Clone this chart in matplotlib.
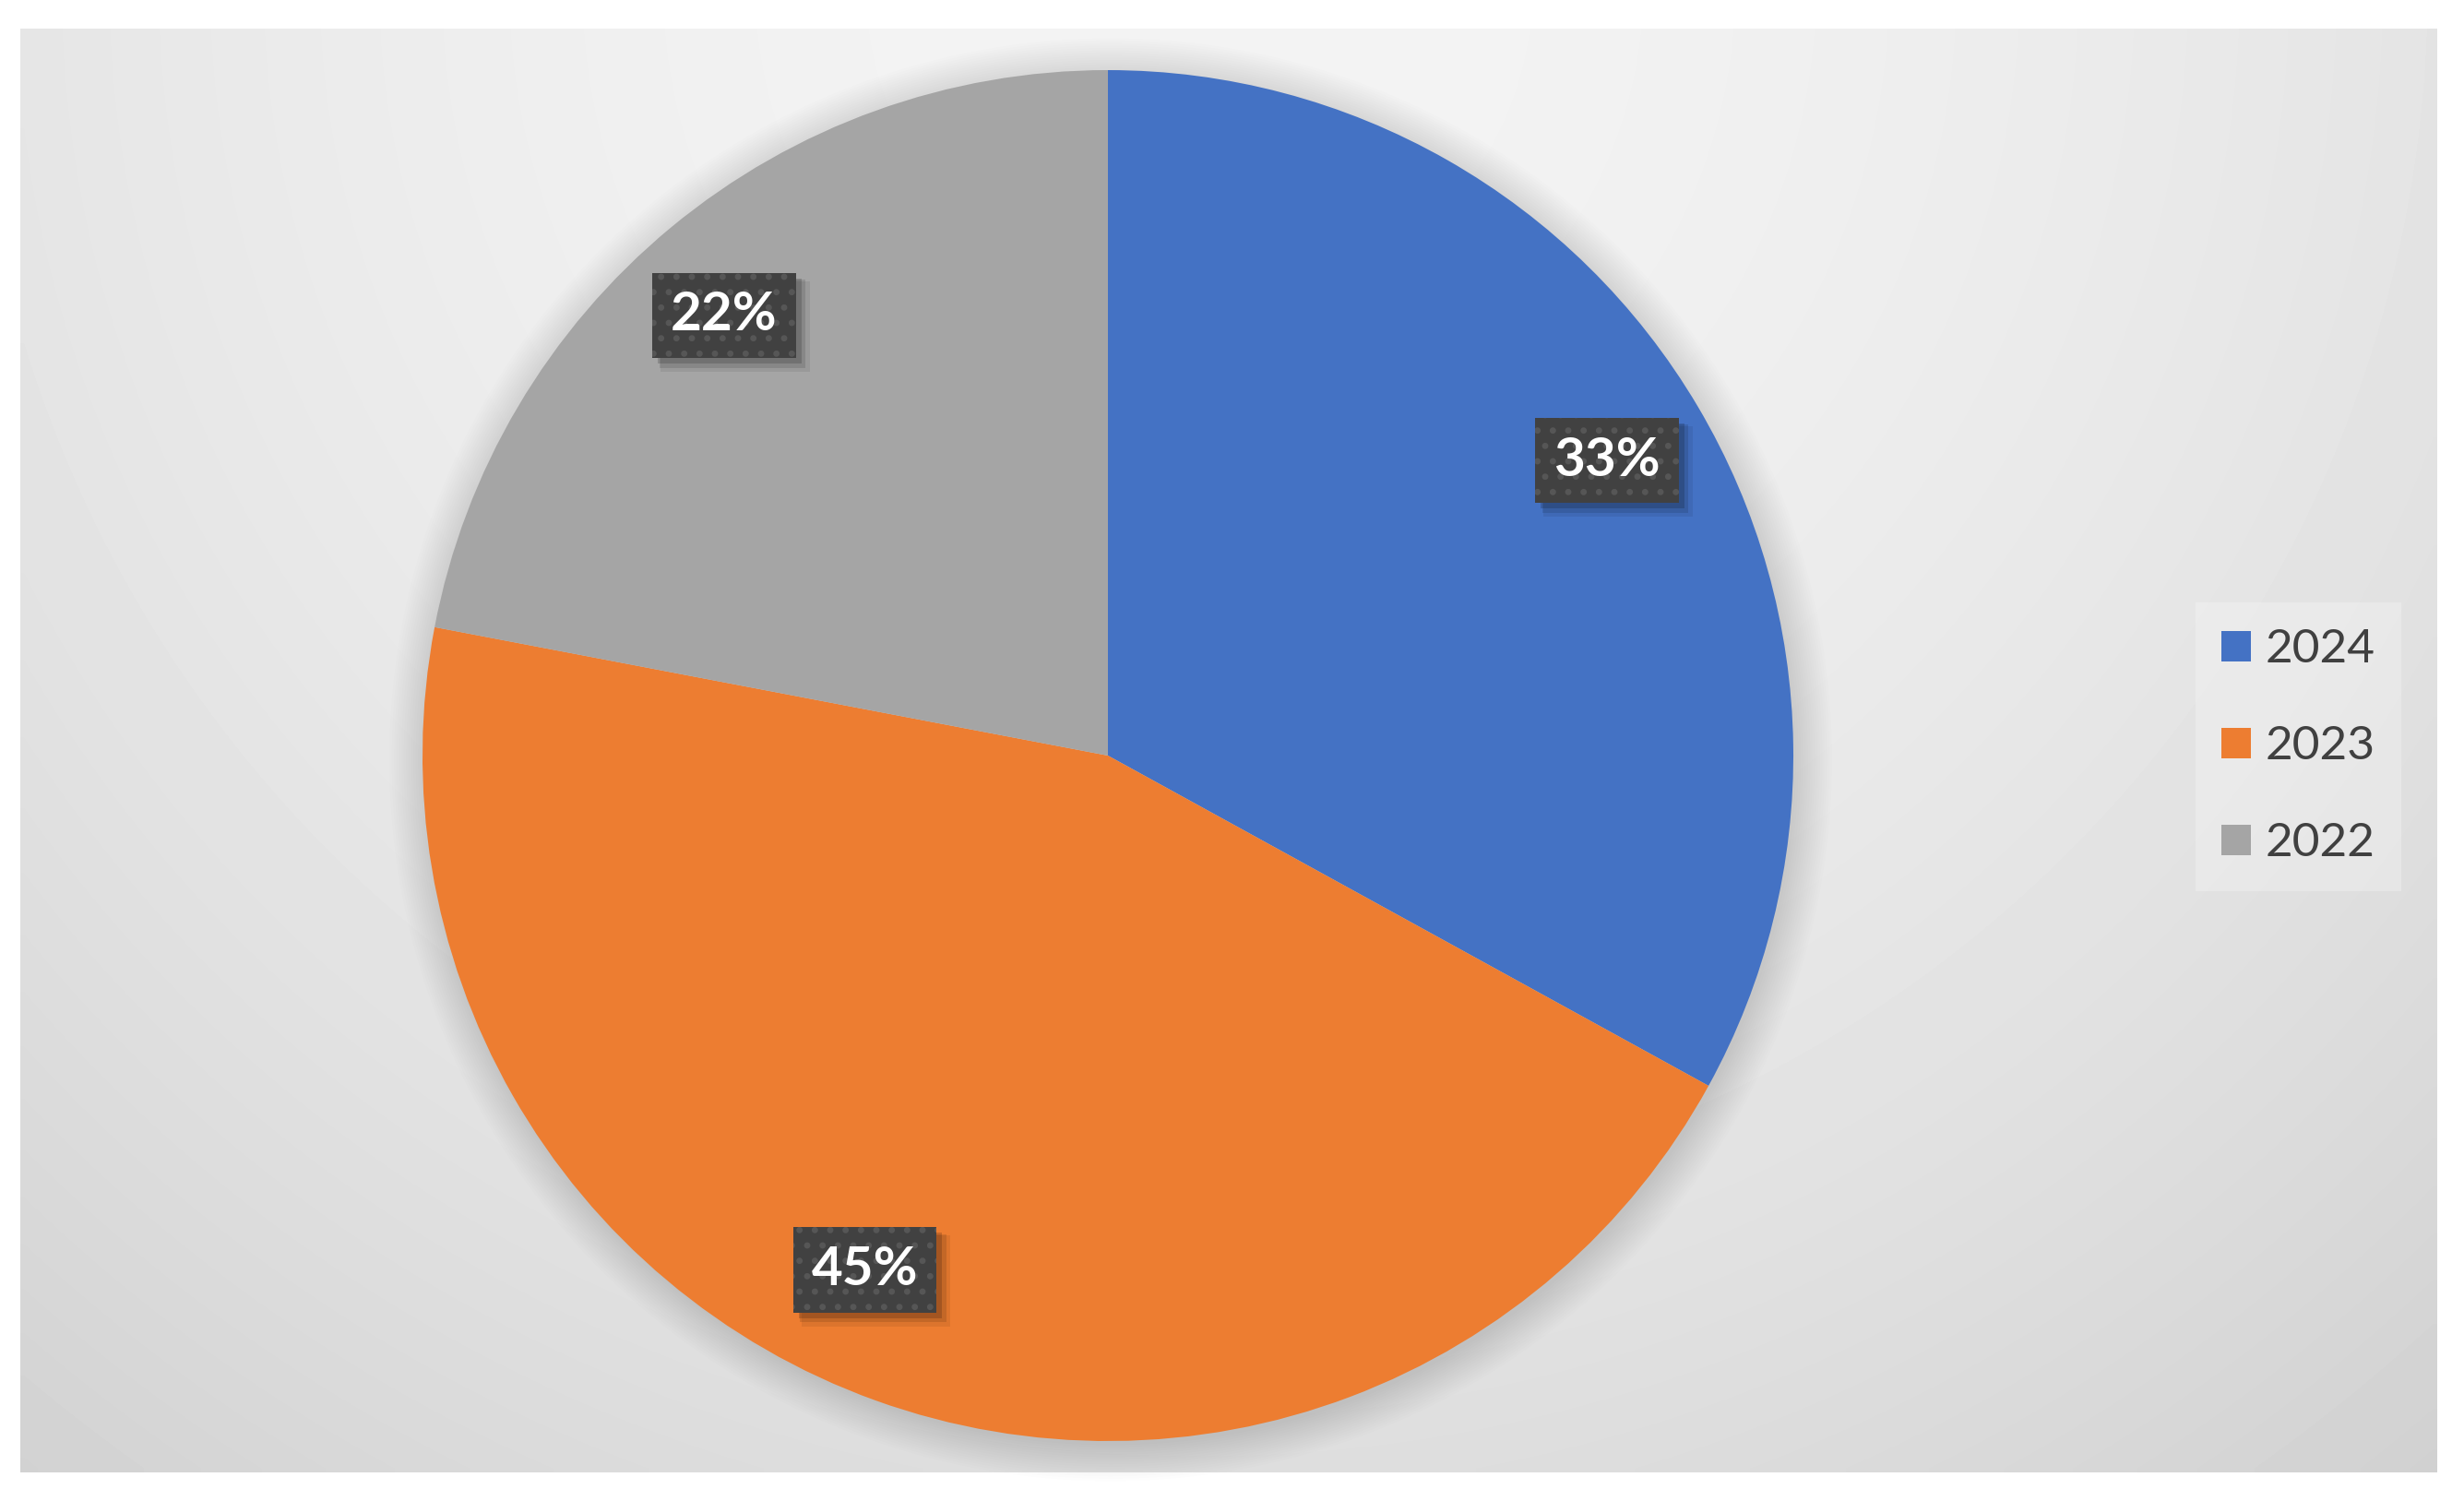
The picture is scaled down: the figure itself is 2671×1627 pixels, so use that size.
import numpy as np
import matplotlib
matplotlib.use('Agg')
import matplotlib.pyplot as plt
from matplotlib.patches import Circle, Rectangle
from matplotlib.transforms import IdentityTransform

plt.rcParams['font.family'] = ['Lato', 'DejaVu Sans']
plt.rcParams['hatch.linewidth'] = 2.5

# data
years = ['2024', '2023', '2022']
shares = [33, 45, 22]
colors = ['#4472C4', '#ED7D31', '#A5A5A5']

# label placement inside each slice (angle nudge in deg, distance from centre)
lab_nudge = [0.0, -5.5, 1.5]
lab_dist = [0.846, 0.83, 0.852]

W, H = 2671, 1627
fig = plt.figure(figsize=(W / 100, H / 100), dpi=100, facecolor='white')

# gray gradient panel behind the chart
px0, py0, px1, py1 = 22, 31, 2642, 1596
bg = fig.add_axes([px0 / W, 1 - py1 / H, (px1 - px0) / W, (py1 - py0) / H])
gx, gy = np.meshgrid(np.linspace(px0, px1, 300), np.linspace(py0, py1, 180))
d = np.hypot(gx - 1300, gy + 20) / 2130
shade = 0.955 - 0.14 * d ** 1.8
bg.imshow(shade, cmap='gray', vmin=0, vmax=1, aspect='auto',
          interpolation='bilinear', origin='upper')
bg.axis('off')

# pie axes, centre (1201, 819) px, radius 743 px
R = 743
lim = 1.1
side = 2 * R * lim
cx, cy = 1201, H - 819
ax = fig.add_axes([(cx - side / 2) / W, (cy - side / 2) / H, side / W, side / H])

# soft shadow round the pie
for k in range(16):
    ax.add_patch(Circle((0.004, -0.006), 1 + k * 0.0035, color='black',
                        alpha=0.008, lw=0, zorder=0))

wedges, texts, autotexts = ax.pie(
    shares, colors=colors, startangle=90, counterclock=False,
    autopct='%1.0f%%', pctdistance=0.845, radius=1,
    wedgeprops=dict(linewidth=0),
    textprops=dict(color='white', fontsize=42, fontweight='bold'))

ax.set_xlim(-lim, lim)
ax.set_ylim(-lim, lim)
ax.set_aspect('equal')
ax.axis('off')

for w, t, dn, r in zip(wedges, autotexts, lab_nudge, lab_dist):
    mid = np.deg2rad((w.theta1 + w.theta2) / 2 + dn)
    t.set_position((r * np.cos(mid), r * np.sin(mid)))
    t.set_zorder(6)
    t.set_bbox(dict(boxstyle='square,pad=0.34', facecolor='#414141',
                    edgecolor='#565656', linewidth=0, hatch='.'))

# drop shadows under the label boxes
fig.canvas.draw()
renderer = fig.canvas.get_renderer()
for t in autotexts:
    bb = t.get_bbox_patch().get_window_extent(renderer)
    for off, grow, a in [(6, 0, 0.16), (9, 3, 0.11), (12, 6, 0.07)]:
        ax.add_patch(Rectangle((bb.x0 + off - grow / 2, bb.y0 - off - grow / 2),
                               bb.width + grow, bb.height + grow,
                               transform=IdentityTransform(), facecolor='black',
                               alpha=a, linewidth=0, zorder=4))

leg = fig.legend(wedges, years, loc='upper left',
                 bbox_to_anchor=(2380 / W, 1 - 653 / H), borderaxespad=0,
                 fontsize=37, frameon=True, fancybox=False,
                 handlelength=0.62, handleheight=0.62, handletextpad=0.3,
                 labelspacing=1.15, borderpad=0.55)
leg.get_frame().set_facecolor('white')
leg.get_frame().set_alpha(0.25)
leg.get_frame().set_linewidth(0)
for txt in leg.get_texts():
    txt.set_color('#404040')

fig.savefig('out.png', dpi=100, facecolor='white')
